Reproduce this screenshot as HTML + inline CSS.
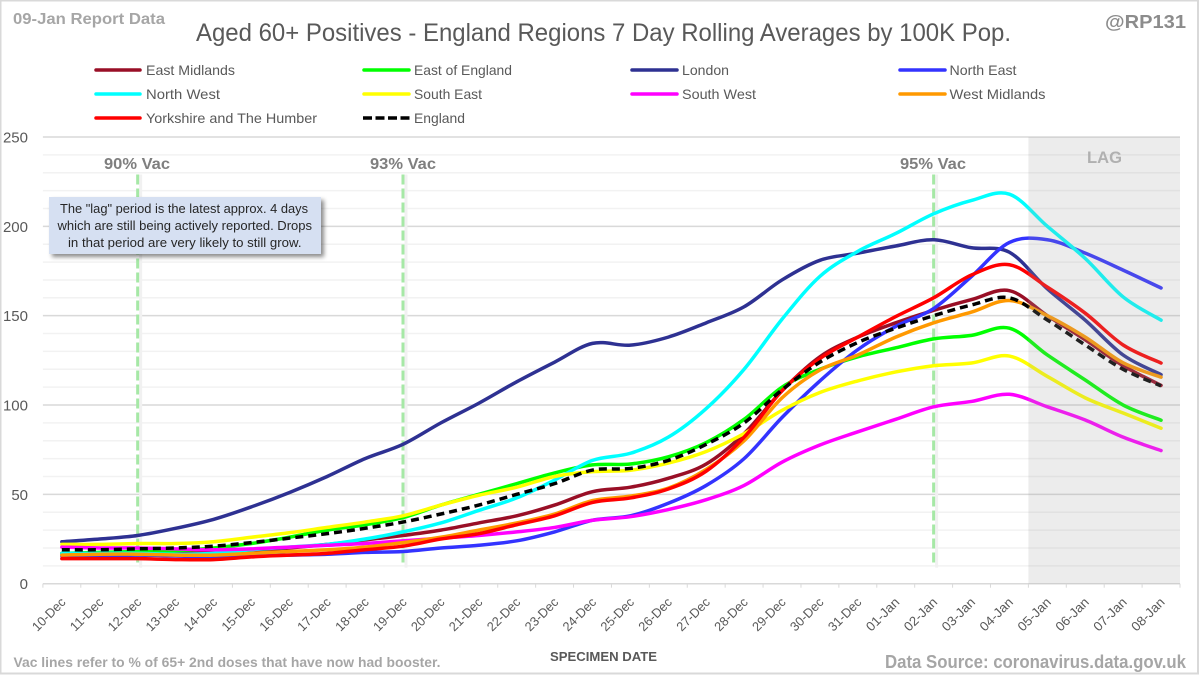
<!DOCTYPE html>
<html lang="en">
<head>
<meta charset="utf-8">
<title>Aged 60+ Positives - England Regions</title>
<style>
  html, body { margin: 0; padding: 0; background: #fff; }
  svg { display: block; font-family: "Liberation Sans", sans-serif; }
</style>
</head>
<body>
<svg id="chart" width="1200" height="675" viewBox="0 0 1200 675" xmlns="http://www.w3.org/2000/svg">
  <defs>
    <filter id="callout-shadow" x="-10%" y="-20%" width="125%" height="150%">
      <feDropShadow dx="3" dy="3" stdDeviation="2" flood-color="#000" flood-opacity="0.45"/>
    </filter>
  </defs>
  <rect x="0.5" y="0.5" width="1197.5" height="673" fill="#fff" stroke="#d9d9d9" stroke-width="2"/>
  <g id="grid"></g>
  <g id="vac"></g>
  <g id="series"></g>
  <rect id="lag" fill="rgb(160,160,160)" fill-opacity="0.2"/>
  <g id="axes"></g>

  <text x="13" y="24" font-size="16" font-weight="bold" fill="#a6a6a6" textLength="152" lengthAdjust="spacingAndGlyphs">09-Jan Report Data</text>
  <text x="196" y="41" font-size="25" fill="#595959" textLength="815" lengthAdjust="spacingAndGlyphs">Aged 60+ Positives - England Regions 7 Day Rolling Averages by 100K Pop.</text>
  <text x="1105" y="28" font-size="18" font-weight="bold" fill="#8c8c8c" textLength="81" lengthAdjust="spacingAndGlyphs">@RP131</text>

  <g font-size="14" fill="#595959">
    <g><line x1="96" x2="140" y1="70" y2="70" stroke="#990f26" stroke-width="3.5" stroke-linecap="round"/><text x="146" y="75" textLength="89" lengthAdjust="spacingAndGlyphs">East Midlands</text></g>
    <g><line x1="364" x2="409" y1="70" y2="70" stroke="#00ff00" stroke-width="3.5" stroke-linecap="round"/><text x="414" y="75" textLength="98" lengthAdjust="spacingAndGlyphs">East of England</text></g>
    <g><line x1="632" x2="677" y1="70" y2="70" stroke="#2e3192" stroke-width="3.5" stroke-linecap="round"/><text x="682" y="75" textLength="47" lengthAdjust="spacingAndGlyphs">London</text></g>
    <g><line x1="900" x2="945" y1="70" y2="70" stroke="#3333ff" stroke-width="3.5" stroke-linecap="round"/><text x="949.5" y="75" textLength="67" lengthAdjust="spacingAndGlyphs">North East</text></g>
    <g><line x1="96" x2="140" y1="94" y2="94" stroke="#00ffff" stroke-width="3.5" stroke-linecap="round"/><text x="146" y="99" textLength="74" lengthAdjust="spacingAndGlyphs">North West</text></g>
    <g><line x1="364" x2="409" y1="94" y2="94" stroke="#ffff00" stroke-width="3.5" stroke-linecap="round"/><text x="414" y="99" textLength="68" lengthAdjust="spacingAndGlyphs">South East</text></g>
    <g><line x1="632" x2="677" y1="94" y2="94" stroke="#ff00ff" stroke-width="3.5" stroke-linecap="round"/><text x="682" y="99" textLength="74" lengthAdjust="spacingAndGlyphs">South West</text></g>
    <g><line x1="900" x2="945" y1="94" y2="94" stroke="#ff9900" stroke-width="3.5" stroke-linecap="round"/><text x="949.5" y="99" textLength="96" lengthAdjust="spacingAndGlyphs">West Midlands</text></g>
    <g><line x1="96" x2="140" y1="118" y2="118" stroke="#ff0000" stroke-width="3.5" stroke-linecap="round"/><text x="146" y="123" textLength="171" lengthAdjust="spacingAndGlyphs">Yorkshire and The Humber</text></g>
    <g><line x1="363" x2="410" y1="118" y2="118" stroke="#000" stroke-width="3.5" stroke-dasharray="9 3.5"/><text x="414" y="123" textLength="51" lengthAdjust="spacingAndGlyphs">England</text></g>
  </g>

  <g font-size="16" font-weight="bold" fill="#7f7f7f">
    <text x="104" y="169" textLength="66" lengthAdjust="spacingAndGlyphs">90% Vac</text>
    <text x="370" y="169" textLength="66" lengthAdjust="spacingAndGlyphs">93% Vac</text>
    <text x="900" y="169" textLength="66" lengthAdjust="spacingAndGlyphs">95% Vac</text>
  </g>
  <text x="1087" y="163" font-size="17" font-weight="bold" fill="#b0b0b0" textLength="35" lengthAdjust="spacingAndGlyphs">LAG</text>

  <g>
    <rect x="49" y="197" width="272" height="57" fill="#d6e0f2" filter="url(#callout-shadow)"/>
    <g font-size="13" fill="#262626">
      <text x="60" y="213" textLength="248" lengthAdjust="spacingAndGlyphs">The "lag" period is the latest approx. 4 days</text>
      <text x="57.5" y="230" textLength="254.5" lengthAdjust="spacingAndGlyphs">which are still being actively reported.  Drops</text>
      <text x="68" y="247" textLength="233.5" lengthAdjust="spacingAndGlyphs">in that period are very likely to still grow.</text>
    </g>
  </g>

  <text x="13.5" y="667" font-size="14" font-weight="bold" fill="#a6a6a6" textLength="427" lengthAdjust="spacingAndGlyphs">Vac lines refer to % of 65+ 2nd doses that have now had booster.</text>
  <text x="550" y="661" font-size="13" font-weight="bold" fill="#595959" textLength="107" lengthAdjust="spacingAndGlyphs">SPECIMEN DATE</text>
  <text x="885" y="668" font-size="18" font-weight="bold" fill="#a6a6a6" textLength="301" lengthAdjust="spacingAndGlyphs">Data Source: coronavirus.data.gov.uk</text>

<script>
const categories = ["10-Dec","11-Dec","12-Dec","13-Dec","14-Dec","15-Dec","16-Dec","17-Dec","18-Dec","19-Dec","20-Dec","21-Dec","22-Dec","23-Dec","24-Dec","25-Dec","26-Dec","27-Dec","28-Dec","29-Dec","30-Dec","31-Dec","01-Jan","02-Jan","03-Jan","04-Jan","05-Jan","06-Jan","07-Jan","08-Jan"];
const yTicks = [0, 50, 100, 150, 200, 250];
const eastMidlands = [17,17,17,17,17.5,18.5,20,22,24.5,27,30,34,38,44,51.5,54,59,67,84,108,127,138,146,153,159,164,150,136.5,122,111];
const eastOfEngland = [17,17.5,18,18.5,20,22.5,26,30,33,37,44,50,56,62,66.5,67,71,79,92,110,120,127,132,137,139,143,128,114,100,91.5];
const london = [23.5,25,27,31,36,43,51,60,70,78,90,101,113,124,134.5,133.5,138,146,155,170,181,185,189,192.5,188,185.5,165,147.5,128,117];
const northEast = [15.5,15.5,16,15.5,15,15.5,16,16.5,17.5,18,20,21.5,24,29,35.5,38,45,55,70,93,113.5,131,144,154,172,191,192.5,185,175.5,165.5];
const northWest = [17,17,17,16.5,17,19,20.5,22,25,29,34,41,48,58,69,73,82,98,120,148,172,186,196,207,214.5,218,200,182,160.5,147.5];
const southEast = [22,22,22.5,22.5,23.5,26,28.5,31.5,34.5,38,44,49.5,54,60,62.7,63.5,67.5,74,84,97,107,113.5,118.5,122,123.5,127.4,116,104,95.5,87];
const southWest = [20.5,20,20,19.5,19,19.5,20.5,21.5,22.5,24,25.5,27,29,31.5,35.5,37.5,41.5,47,55,68,77.6,85,92,99,102,106,99,91.6,82,74.5];
const westMidlands = [16,16.5,16.5,16,16,17,18,19,20.5,23,26,30,34,39,46.5,49,53.5,64,80,104,119.6,128,138,146,152,158.5,150,138,123.6,115.6];
const yorkshire = [14,14,14,13.5,13.5,15,16,17,19,21,25,28,33,38,45.5,48,53,63,82,108,126,138,149.5,160,172.8,178.5,166,151.4,133.6,123.5];
const england = [19,19,19.5,20,21,23,25.5,28,31,34.5,39,44,50,56,63.6,64.5,69,78,90,108.5,124,135,143,150,156,160,147.6,133.6,120,110.7];
const vacDates = ["12-Dec", "19-Dec", "02-Jan"];
const lagStart = "05-Jan";

const NS = "http://www.w3.org/2000/svg";
const plot = { left: 42.9, right: 1180, top: 137, bottom: 583.7 };
const yMax = 250;
const step = (plot.right - plot.left) / categories.length;

function xBand(i) { return plot.left + step * i; }
function xCenter(i) { return xBand(i) + step / 2; }
function yScale(v) { return plot.bottom - (v / yMax) * (plot.bottom - plot.top); }
function make(tag, parent) {
  const el = document.createElementNS(NS, tag);
  parent.appendChild(el);
  return el;
}
function smoothPath(values) {
  const pts = values.map((v, i) => [xCenter(i), yScale(v)]);
  let d = "M" + pts[0][0].toFixed(2) + " " + pts[0][1].toFixed(2);
  for (let i = 0; i < pts.length - 1; i++) {
    const p0 = pts[Math.max(0, i - 1)], p1 = pts[i], p2 = pts[i + 1], p3 = pts[Math.min(pts.length - 1, i + 2)];
    const c1x = p1[0] + (p2[0] - p0[0]) / 6, c1y = p1[1] + (p2[1] - p0[1]) / 6;
    const c2x = p2[0] - (p3[0] - p1[0]) / 6, c2y = p2[1] - (p3[1] - p1[1]) / 6;
    d += "C" + c1x.toFixed(2) + " " + c1y.toFixed(2) + " " + c2x.toFixed(2) + " " + c2y.toFixed(2) + " " + p2[0].toFixed(2) + " " + p2[1].toFixed(2);
  }
  return d;
}

const grid = document.getElementById("grid");
for (let v = 10; v <= yMax; v += 10) {
  if (v % 50 === 0) continue;
  const minor = make("line", grid);
  
  
  minor.setAttribute("x1", plot.left); minor.setAttribute("x2", plot.right);
  minor.setAttribute("y1", yScale(v)); minor.setAttribute("y2", yScale(v));
  minor.setAttribute("stroke", "#f2f2f2"); minor.setAttribute("stroke-width", "1.5");
}
yTicks.forEach(function (t) {
  const major = make("line", grid);
  
  
  major.setAttribute("x1", plot.left); major.setAttribute("x2", plot.right);
  major.setAttribute("y1", yScale(t)); major.setAttribute("y2", yScale(t));
  major.setAttribute("stroke", "#d9d9d9"); major.setAttribute("stroke-width", "1.5");
});

const vacGroup = document.getElementById("vac");
vacDates.forEach(function (date) {
  const x = xCenter(categories.indexOf(date));
  const glow = make("line", vacGroup);
  
  
  glow.setAttribute("x1", x + 3); glow.setAttribute("x2", x + 3);
  glow.setAttribute("y1", yScale(229)); glow.setAttribute("y2", yScale(9));
  glow.setAttribute("stroke", "#f1f1f1"); glow.setAttribute("stroke-width", "3");
  const vl = make("line", vacGroup);
  
  
  vl.setAttribute("x1", x); vl.setAttribute("x2", x);
  vl.setAttribute("y1", yScale(229)); vl.setAttribute("y2", yScale(10));
  vl.setAttribute("stroke", "#a6e8a6"); vl.setAttribute("stroke-width", "3");
  vl.setAttribute("stroke-dasharray", "10 4");
});

const seriesGroup = document.getElementById("series");
function drawSeries(values, colour, name, dashed) {
  const p = make("path", seriesGroup);
  
  
  p.setAttribute("d", smoothPath(values));
  p.setAttribute("fill", "none");
  p.setAttribute("stroke", colour);
  p.setAttribute("stroke-width", "3.5");
  p.setAttribute("stroke-linejoin", "round");
  if (dashed) { p.setAttribute("stroke-dasharray", "8 5"); }
  else { p.setAttribute("stroke-linecap", "round"); }
}
drawSeries(eastMidlands, "#990f26", "series-east-midlands", false);
drawSeries(eastOfEngland, "#00ff00", "series-east-of-england", false);
drawSeries(london, "#2e3192", "series-london", false);
drawSeries(northEast, "#3333ff", "series-north-east", false);
drawSeries(northWest, "#00ffff", "series-north-west", false);
drawSeries(southEast, "#ffff00", "series-south-east", false);
drawSeries(southWest, "#ff00ff", "series-south-west", false);
drawSeries(westMidlands, "#ff9900", "series-west-midlands", false);
drawSeries(yorkshire, "#ff0000", "series-yorkshire-and-the-humber", false);
drawSeries(england, "#000000", "series-england", true);

const lag = document.getElementById("lag");
const lagX = xBand(categories.indexOf(lagStart));
lag.setAttribute("x", lagX);
lag.setAttribute("y", plot.top);
lag.setAttribute("width", plot.right - lagX);
lag.setAttribute("height", plot.bottom - plot.top);

const axes = document.getElementById("axes");
yTicks.forEach(function (t) {
  const label = make("text", axes);
  
  
  label.setAttribute("x", 28);
  label.setAttribute("y", yScale(t) + 5.5);
  label.setAttribute("text-anchor", "end");
  label.setAttribute("font-size", "15");
  label.setAttribute("fill", "#595959");
  label.textContent = t;
});
for (let i = 0; i <= categories.length; i++) {
  const tick = make("line", axes);
  
  
  tick.setAttribute("x1", xBand(i)); tick.setAttribute("x2", xBand(i));
  tick.setAttribute("y1", plot.bottom); tick.setAttribute("y2", plot.bottom + 4);
  tick.setAttribute("stroke", "#d9d9d9"); tick.setAttribute("stroke-width", "1");
}
categories.forEach(function (c, i) {
  const ax = xCenter(i) + 4.5, ay = 603;
  const label = make("text", axes);
  
  
  label.setAttribute("x", ax);
  label.setAttribute("y", ay);
  label.setAttribute("text-anchor", "end");
  label.setAttribute("font-size", "13");
  label.setAttribute("fill", "#595959");
  label.setAttribute("textLength", "41");
  label.setAttribute("lengthAdjust", "spacingAndGlyphs");
  label.setAttribute("transform", "rotate(-45 " + ax + " " + ay + ")");
  label.textContent = c;
});
</script>
</svg>
</body>
</html>
